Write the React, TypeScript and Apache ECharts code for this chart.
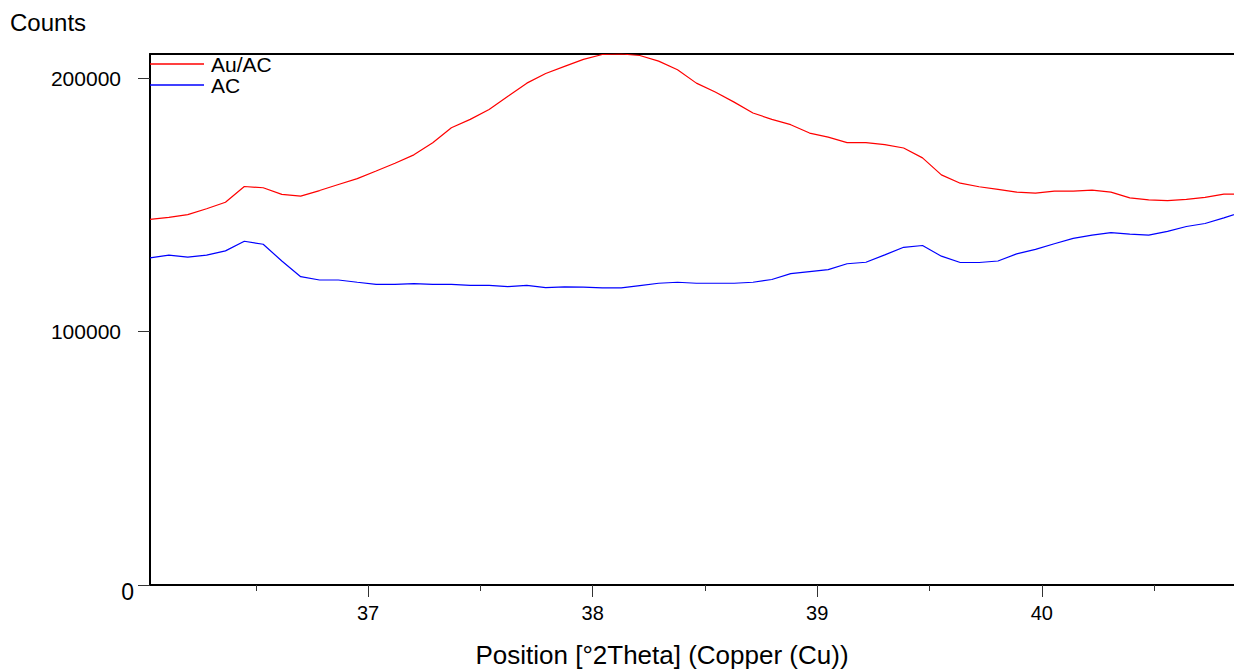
import React, { useEffect, useRef } from "react";
import * as echarts from "echarts";

const FONT = "'Liberation Sans', Arial, Helvetica, sans-serif";

// 2Theta positions of the scan points (degrees)
const positions = [
  36.029, 36.113, 36.197, 36.281, 36.365, 36.449, 36.533, 36.616, 36.7, 36.784,
  36.868, 36.952, 37.036, 37.12, 37.204, 37.288, 37.371, 37.455, 37.539, 37.623,
  37.707, 37.791, 37.875, 37.959, 38.043, 38.127, 38.21, 38.294, 38.378, 38.462,
  38.546, 38.63, 38.714, 38.798, 38.882, 38.966, 39.049, 39.133, 39.217, 39.301,
  39.385, 39.469, 39.553, 39.637, 39.721, 39.805, 39.888, 39.972, 40.056, 40.14,
  40.224, 40.308, 40.392, 40.476, 40.56, 40.644, 40.727, 40.811, 40.895,
];

// Counts for Au/AC
const auAcCounts = [
  144300, 145100, 146200, 148500, 151100, 157300, 156800, 154200, 153500, 155700,
  158100, 160400, 163400, 166500, 169800, 174600, 180500, 183800, 187700, 192900,
  198100, 201900, 204700, 207500, 209400, 209600, 209000, 206800, 203400, 198100,
  194600, 190600, 186300, 183800, 181700, 178400, 176800, 174600, 174600, 173800,
  172500, 168600, 161900, 158600, 157200, 156200, 155100, 154700, 155500, 155500,
  155900, 155100, 152800, 152000, 151700, 152200, 153000, 154300, 154300,
];

// Counts for AC
const acCounts = [
  129100, 130200, 129400, 130200, 131900, 135700, 134500, 127900, 121700, 120400,
  120400, 119500, 118700, 118700, 119000, 118700, 118700, 118300, 118300, 117800,
  118300, 117400, 117700, 117600, 117300, 117300, 118200, 119100, 119500, 119100,
  119100, 119100, 119500, 120600, 122900, 123700, 124500, 126800, 127400, 130300,
  133300, 134000, 129800, 127300, 127300, 127900, 130700, 132500, 134700, 136800,
  138100, 139100, 138500, 138100, 139600, 141500, 142700, 144900, 147300,
];

const seriesNames = ["Au/AC", "AC"];
const seriesColors = ["#ff0000", "#0000ff"];

const X_MIN = 36.029;
const X_MAX = 40.856;
const Y_MIN = 0;
const Y_MAX = 209600;

const xMajorTicks = [37, 38, 39, 40];
const xMinorTicks = [36.5, 37.5, 38.5, 39.5, 40.5];
const yTicks = [0, 100000, 200000];
const yLabels = [100000, 200000];

const xTitle = "Position [°2Theta] (Copper (Cu))";
const yTitle = "Counts";

export default function App() {
  const ref = useRef<HTMLDivElement>(null);

  useEffect(() => {
    if (!ref.current) return;
    const chart = echarts.init(ref.current, null, { renderer: "svg" });

    const baseX = {
      type: "value",
      min: X_MIN,
      max: X_MAX,
      splitLine: { show: false },
    };

    const option: any = {
      animation: false,
      backgroundColor: "#ffffff",
      grid: { left: 150, right: 0, top: 54, bottom: 87, containLabel: false },
      legend: {
        data: seriesNames,
        orient: "vertical",
        left: 150,
        top: 50,
        padding: 0,
        itemGap: -7,
        icon: "rect",
        itemWidth: 54,
        itemHeight: 1.4,
        selectedMode: false,
        textStyle: {
          fontFamily: FONT,
          fontSize: 21,
          color: "#000",
          lineHeight: 21,
          padding: [7, 0, 0, 2],
        },
      },
      xAxis: [
        {
          ...baseX,
          position: "bottom",
          axisLine: { show: true, onZero: false, lineStyle: { color: "#000", width: 2 } },
          axisTick: { show: true, customValues: xMajorTicks, length: 12, lineStyle: { color: "#333", width: 1 } },
          axisLabel: {
            show: true,
            customValues: xMajorTicks,
            formatter: (v: number) => String(v),
            fontFamily: FONT,
            fontSize: 20,
            color: "#000",
            margin: 18,
          },
        },
        {
          ...baseX,
          position: "bottom",
          axisLine: { show: false },
          axisTick: { show: true, customValues: xMinorTicks, length: 6, lineStyle: { color: "#333", width: 1 } },
          axisLabel: { show: false },
        },
        {
          ...baseX,
          position: "top",
          axisLine: { show: true, onZero: false, lineStyle: { color: "#000", width: 2 } },
          axisTick: { show: false },
          axisLabel: { show: false },
        },
      ],
      yAxis: [
        {
          type: "value",
          min: Y_MIN,
          max: Y_MAX,
          splitLine: { show: false },
          axisLine: { show: true, onZero: false, lineStyle: { color: "#000", width: 2 } },
          axisTick: { show: true, customValues: yTicks, length: 12, lineStyle: { color: "#333", width: 1 } },
          axisLabel: {
            show: true,
            customValues: yLabels,
            formatter: (v: number) => String(v),
            fontFamily: FONT,
            fontSize: 21,
            color: "#000",
            margin: 29,
          },
        },
      ],
      graphic: [
        {
          type: "text",
          left: 10,
          top: 10,
          style: { text: yTitle, font: `24px ${FONT}`, fill: "#000" },
        },
        {
          type: "text",
          x: 662,
          y: 655,
          style: {
            text: xTitle,
            font: `26px ${FONT}`,
            fill: "#000",
            textAlign: "center",
            textVerticalAlign: "middle",
          },
        },
        {
          type: "text",
          x: 134,
          y: 592,
          style: {
            text: "0",
            font: `23px ${FONT}`,
            fill: "#000",
            textAlign: "right",
            textVerticalAlign: "middle",
          },
        },
      ],
      series: [
        {
          name: seriesNames[0],
          type: "line",
          xAxisIndex: 0,
          yAxisIndex: 0,
          symbol: "none",
          clip: true,
          data: positions.map((p, i) => [p, auAcCounts[i]]),
          itemStyle: { color: seriesColors[0] },
          lineStyle: { color: seriesColors[0], width: 1.2 },
        },
        {
          name: seriesNames[1],
          type: "line",
          xAxisIndex: 0,
          yAxisIndex: 0,
          symbol: "none",
          clip: true,
          data: positions.map((p, i) => [p, acCounts[i]]),
          itemStyle: { color: seriesColors[1] },
          lineStyle: { color: seriesColors[1], width: 1.2 },
        },
      ],
    };

    chart.setOption(option);
    return () => {
      chart.dispose();
    };
  }, []);

  return (
    <div
      ref={ref}
      style={{ position: "fixed", left: 0, top: 0, width: 1234, height: 672, background: "#fff" }}
    />
  );
}
